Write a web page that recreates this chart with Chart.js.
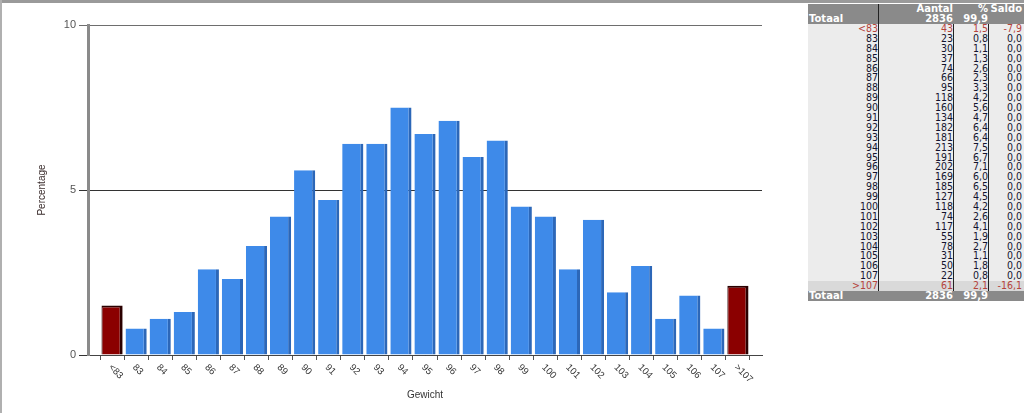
<!DOCTYPE html>
<html>
<head>
<meta charset="utf-8">
<script src="https://cdn.jsdelivr.net/npm/chart.js@4/dist/chart.umd.min.js"></script>
<style>
  html, body { margin: 0; padding: 0; background: #fff; }
  body { width: 1024px; height: 413px; position: relative; overflow: hidden; }
  #topline { position: absolute; left: 0; top: 0; width: 1024px; height: 3px; background: #9a9a9a; }
  #leftline { position: absolute; left: 0; top: 0; width: 2px; height: 413px; background: #b0b0b0; }
  #wrap { position: absolute; left: 2px; top: 3px; width: 804px; height: 410px; }
  #tabel { position: absolute; left: 808px; top: 4px; width: 216px; font-family: "DejaVu Sans Condensed", "DejaVu Sans", sans-serif; font-size: 10.5px; }
  .rij { position: relative; height: 9.9px; line-height: 9.9px; }
  .rij span { position: absolute; white-space: nowrap; }
  .kop { background: #8a8a8a; color: #fff; font-weight: bold; font-family: "DejaVu Sans", sans-serif; font-size: 10px; height: 10px; line-height: 10px; }
  .body { background: #ececec; color: #14142e; }
  .rood { color: #b5433b; }
  .grens { background: #d9d9d9; }
  .vlijn { position: absolute; width: 1px; background: #222; }
</style>
</head>
<body>
<div id="topline"></div>
<div id="leftline"></div>
<div id="wrap"><canvas id="gewichtChart"></canvas></div>
<div id="tabel"></div>
<script>
// Categories (gewicht) and values from the table
const categories = ["<83", "83", "84", "85", "86", "87", "88", "89", "90", "91", "92", "93", "94", "95", "96", "97", "98", "99", "100", "101", "102", "103", "104", "105", "106", "107", ">107"];
const aantal = [43, 23, 30, 37, 74, 66, 95, 118, 160, 134, 182, 181, 213, 191, 202, 169, 185, 127, 118, 74, 117, 55, 78, 31, 50, 22, 61];
const percentage = [1.5, 0.8, 1.1, 1.3, 2.6, 2.3, 3.3, 4.2, 5.6, 4.7, 6.4, 6.4, 7.5, 6.7, 7.1, 6.0, 6.5, 4.5, 4.2, 2.6, 4.1, 1.9, 2.7, 1.1, 1.8, 0.8, 2.1];
const saldo = [-7.9, 0, 0, 0, 0, 0, 0, 0, 0, 0, 0, 0, 0, 0, 0, 0, 0, 0, 0, 0, 0, 0, 0, 0, 0, 0, -16.1];
const totaalAantal = 2836;
const totaalPct = 99.9;
const yTicks = [0, 5, 10];

function fmt(v) {
  return v.toFixed(1).replace(".", ",");
}
function isBuiten(i) {
  return i === 0 || i === categories.length - 1;
}

// ---- table ----
const tabel = document.getElementById("tabel");
const colRight = [146, 71, 36, 2]; // right offsets of the 4 columns
function rij(cls, cells, extraCls) {
  const div = document.createElement("div");
  div.className = "rij " + cls;
  cells.forEach((txt, c) => {
    if (txt === null) return;
    const s = document.createElement("span");
    s.textContent = txt;
    if (c === 0 && cls === "kop") s.style.left = "1px";
    else s.style.right = colRight[c] + "px";
    if (extraCls) s.className = extraCls;
    div.appendChild(s);
  });
  tabel.appendChild(div);
  return div;
}
rij("kop", [null, "Aantal", "%", "Saldo"]);
rij("kop", ["Totaal", String(totaalAantal), fmt(totaalPct), null]);
categories.forEach((cat, i) => {
  rij("body" + (i === categories.length - 1 ? " grens" : ""),
    [cat, String(aantal[i]), fmt(percentage[i]), fmt(saldo[i])],
    isBuiten(i) ? "rood" : "");
});
rij("kop", ["Totaal", String(totaalAantal), fmt(totaalPct), null]);
// vertical separators
const bodyEnd = 20 + categories.length * 9.9;
[[70, 0], [145, 20], [180, 20]].forEach(([x, top]) => {
  const l = document.createElement("div");
  l.className = "vlijn";
  l.style.left = x + "px";
  l.style.top = top + "px";
  l.style.height = (bodyEnd - top) + "px";
  tabel.appendChild(l);
});

// ---- chart ----
// pad one empty slot on each side so bars sit like in the original
const labels = [""].concat(categories, [""]);
const data = [null].concat(percentage, [null]);

// rotated x labels (clockwise, hanging down from the tick)
const xLabelPlugin = {
  id: "xLabels",
  afterDraw(chart) {
    const ctx = chart.ctx;
    const xs = chart.scales.x;
    ctx.save();
    ctx.font = "9.5px 'Liberation Sans', Arial, sans-serif";
    ctx.fillStyle = "#333";
    ctx.textAlign = "left";
    ctx.textBaseline = "middle";
    categories.forEach((cat, i) => {
      const x = xs.getPixelForValue(i + 1);
      ctx.save();
      ctx.translate(x - 2, xs.top + 11);
      ctx.rotate(Math.PI / 4);
      ctx.fillText(cat, 0, 0);
      ctx.restore();
    });
    ctx.restore();
  },
};

const isRood = (c) => c.dataIndex === 1 || c.dataIndex === categories.length;

const ctx = document.getElementById("gewichtChart").getContext("2d");
new Chart(ctx, {
  type: "bar",
  data: {
    labels: labels,
    datasets: [
      {
        label: "Percentage",
        data: data,
        backgroundColor: (c) => (isRood(c) ? "#8b0000" : "#3e8ae9"),
        borderColor: (c) => (isRood(c) ? "#2a0000" : "#2c67b8"),
        borderWidth: (c) => (isRood(c) ? { top: 2, left: 1, right: 3, bottom: 0 } : { top: 0, left: 0, right: 3, bottom: 0 }),
        borderSkipped: false,
        barPercentage: 0.88,
        categoryPercentage: 1,
      },
    ],
  },
  options: {
    responsive: true,
    maintainAspectRatio: false,
    animation: false,
    layout: {
      padding: { top: 22, right: 44, left: 0, bottom: 0 },
    },
    plugins: {
      legend: { display: false },
      tooltip: { enabled: false },
    },
    scales: {
      x: {
        offset: false,
        grid: {
          display: true,
          drawOnChartArea: false,
          drawTicks: true,
          tickLength: 5,
          color: "#555",
        },
        border: { color: "#444", width: 1 },
        ticks: { display: false },
        title: {
          display: true,
          text: "Gewicht",
          color: "#333",
          font: { family: "'Liberation Sans', Arial, sans-serif", size: 10 },
          padding: { top: 0, bottom: 12 },
        },
        afterFit: function (scale) {
          scale.height = 58;
        },
      },
      y: {
        min: 0,
        max: 10,
        afterBuildTicks: function (scale) {
          scale.ticks = yTicks.map((v) => ({ value: v }));
        },
        grid: {
          color: (c) => (c.tick && c.tick.value === 10 ? "#6e6e6e" : "#333"),
          drawTicks: true,
          tickLength: 9,
        },
        border: { color: "#8a8a8a", width: 3 },
        ticks: {
          color: "#555",
          padding: 3,
          font: { family: "'Liberation Sans', Arial, sans-serif", size: 11 },
        },
        title: {
          display: true,
          text: "Percentage",
          color: "#3a2c2c",
          font: { family: "'Liberation Sans', Arial, sans-serif", size: 10 },
          padding: { top: 34, bottom: 0 },
        },
        afterFit: function (scale) {
          scale.width = 86;
        },
      },
    },
  },
  plugins: [xLabelPlugin],
});
</script>
</body>
</html>
